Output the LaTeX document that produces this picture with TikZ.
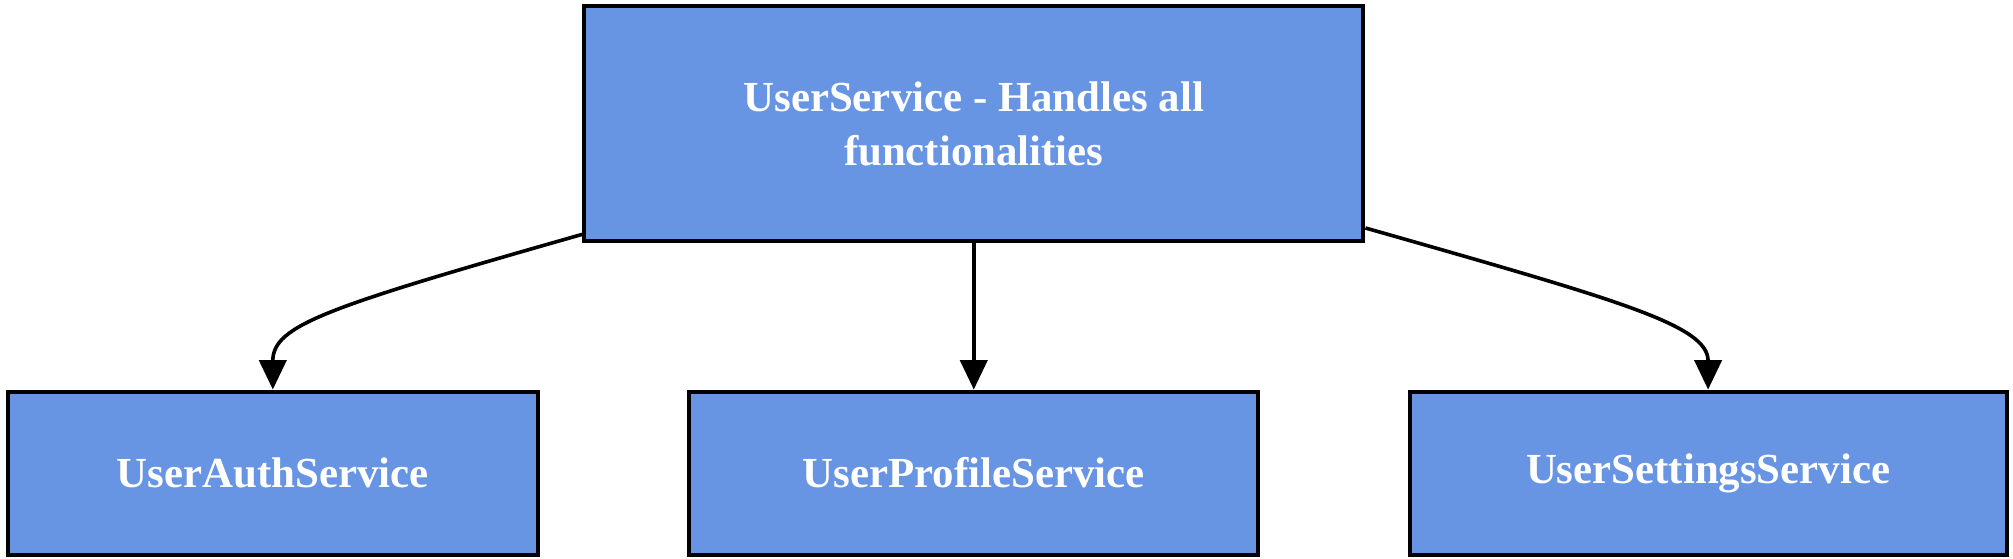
\documentclass[tikz,border=0pt]{standalone}
\usepackage{fontspec}
\setmainfont{Liberation Serif}
\usetikzlibrary{arrows.meta}
\definecolor{boxblue}{HTML}{6794E3}
\tikzset{
  svc/.style={draw=black, line width=1.8pt, fill=boxblue, text=white,
    font=\fontsize{19}{24}\selectfont\bfseries, align=center,
    inner sep=0pt, minimum height=127*0.02cm},
  link/.style={line width=1.6pt, -{Triangle[length=13pt,width=12pt]}}
}
\begin{document}
\begin{tikzpicture}[x=0.02cm,y=-0.02cm]
  \useasboundingbox (0,0) rectangle (1568,435);
  % services
  \node[svc, minimum width=607*0.02cm, minimum height=183*0.02cm] (main) at (758.5,96.5)
       {UserService - Handles all\\functionalities};
  \node[svc, minimum width=413*0.02cm] (auth) at (212.5,368.5) {UserAuthService};
  \node[svc, minimum width=443*0.02cm] (profile) at (758.5,368.5) {UserProfileService};
  \node[svc, minimum width=465*0.02cm] (settings) at (1330.5,368.5) {UserSettingsService};
  % links
  \draw[link] ([yshift=0.14cm]main.south west) .. controls +(-200,57) and +(0,-50) .. (auth.north);
  \draw[link] (main.south) -- (profile.north);
  \draw[link] ([yshift=0.24cm]main.south east) .. controls +(200,57) and +(0,-50) .. (settings.north);
\end{tikzpicture}
\end{document}
